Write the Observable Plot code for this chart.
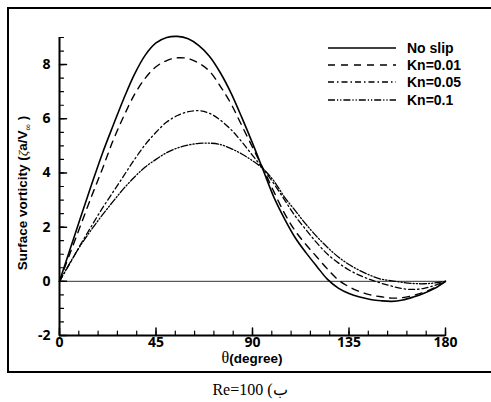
<!DOCTYPE html>
<html>
<head>
<meta charset="utf-8">
<script src="https://cdn.jsdelivr.net/npm/d3@7"></script>
<script src="https://cdn.jsdelivr.net/npm/@observablehq/plot@0.6"></script>
<style>
  body { margin: 0; background: #fff; }
  #wrap { position: relative; width: 491px; height: 402px; overflow: hidden; font-family: "Liberation Sans", Arial, sans-serif; }
  #frame { position: absolute; left: 7px; top: 7px; width: 492px; height: 366px; border: 2px solid #000; box-sizing: border-box; z-index: 2; pointer-events: none; }
  #plot { position: absolute; left: 0; top: 0; z-index: 1; }
  #ylab { position: absolute; left: 24px; top: 193px; transform: translate(-50%, -50%) rotate(-90deg); white-space: nowrap; font-weight: bold; font-size: 13.5px; z-index: 3; }
  #xlab { position: absolute; left: 252px; top: 358px; transform: translate(-50%, -50%); white-space: nowrap; line-height: 14px; z-index: 3; }
  #legend { position: absolute; left: 328px; top: 39px; z-index: 3; }
  .row { display: flex; align-items: center; height: 17.4px; }
  .row span { font-weight: bold; font-size: 14px; margin-left: 11px; }
  #cap { position: absolute; left: 250px; top: 389px; transform: translate(-50%, -50%); font-family: "Liberation Serif", "Times New Roman", serif; font-size: 16px; white-space: nowrap; z-index: 3; }
</style>
</head>
<body>
<div id="wrap">
  <div id="frame"></div>
  <div id="plot"></div>
  <div id="ylab">Surface vorticity (<span style="font-weight:normal;font-family:'Liberation Serif',serif;font-style:italic">ζ</span>a/V<sub style="font-size:9px;font-weight:normal">∞</sub> )</div>
  <div id="xlab"><span style="font-family:'Liberation Serif',serif;font-size:16px">θ</span><span style="font-weight:bold;font-size:13.5px">(degree)</span></div>
  <div id="legend"></div>
  <div id="cap" dir="rtl">ب) Re=100</div>
</div>
<script>
const theta = [0,5,10,15,20,25,30,35,40,45,50,55,60,65,70,75,80,85,90,95,100,105,110,115,120,125,130,135,140,145,150,155,160,165,170,175,180];
const noSlip = [0,1.2,2.4,3.58,4.72,5.75,6.75,7.65,8.35,8.8,9.0,9.04,8.95,8.7,8.3,7.7,6.95,6.05,5.1,4.1,3.1,2.3,1.6,1.05,0.55,0.07,-0.25,-0.45,-0.58,-0.67,-0.72,-0.74,-0.69,-0.58,-0.44,-0.26,0];
const kn001 = [0,1.05,2.1,3.15,4.15,5.2,6.1,6.9,7.5,7.92,8.15,8.25,8.22,8.05,7.75,7.2,6.55,5.75,4.95,4.15,3.3,2.5,1.85,1.35,0.9,0.45,0.05,-0.2,-0.38,-0.5,-0.57,-0.62,-0.6,-0.52,-0.4,-0.23,0];
const kn005 = [0,0.68,1.38,2.05,2.7,3.3,3.9,4.5,5.05,5.5,5.88,6.12,6.26,6.3,6.2,5.95,5.6,5.15,4.65,4.15,3.6,3.0,2.4,1.9,1.42,1.0,0.68,0.42,0.22,0.06,-0.07,-0.18,-0.27,-0.3,-0.26,-0.15,0];
const kn01 = [0,0.7,1.35,1.92,2.45,2.95,3.43,3.85,4.22,4.5,4.75,4.92,5.03,5.09,5.1,5.05,4.9,4.7,4.45,4.15,3.7,3.1,2.6,2.1,1.65,1.25,0.9,0.62,0.4,0.22,0.08,0.02,-0.04,-0.08,-0.09,-0.06,0];
const seriesNames = ["No slip","Kn=0.01","Kn=0.05","Kn=0.1"];
const seriesValues = [noSlip, kn001, kn005, kn01];
const dashes = [null, "7,6", "6,3,1.5,3", "7,2,1.2,2,1.2,2"];
const widths = [1.6, 1.4, 1.3, 1.3];
const xMajor = [0,45,90,135,180];
const xMinor = d3.range(0, 181, 9);
const yMajor = [-2,0,2,4,6,8];
const yMinor = d3.range(-2, 9.01, 0.5);

const tickShape = {draw(context, l) { context.moveTo(0, 0); context.lineTo(0, -l); }};

const lineMarks = seriesValues.map((vals, i) =>
  Plot.line(theta.map((t, j) => ({t, v: vals[j]})), {
    x: "t", y: "v", stroke: "#000", strokeWidth: widths[i],
    strokeDasharray: dashes[i], curve: "catmull-rom"
  })
);

const yDomain = [-2, 9];
const xDomain = [0, 180];

const chart = Plot.plot({
  width: 491, height: 380,
  marginLeft: 59, marginRight: 46, marginTop: 37, marginBottom: 45,
  style: {background: "transparent", color: "#000"},
  x: {domain: xDomain},
  y: {domain: yDomain},
  marks: [
    Plot.ruleY([0], {stroke: "#333", strokeWidth: 1}),
    ...lineMarks,
    Plot.vector(yMinor, {x: xDomain[0], y: d => d, length: 4, rotate: 90, anchor: "start", shape: tickShape, stroke: "#000", strokeWidth: 1.2}),
    Plot.vector(yMajor, {x: xDomain[0], y: d => d, length: 7, rotate: 90, anchor: "start", shape: tickShape, stroke: "#000", strokeWidth: 1.5}),
    Plot.vector(xMinor, {x: d => d, y: yDomain[0], length: 4.5, rotate: 0, anchor: "start", shape: tickShape, stroke: "#000", strokeWidth: 1.2}),
    Plot.vector(xMajor, {x: d => d, y: yDomain[0], length: 7.5, rotate: 0, anchor: "start", shape: tickShape, stroke: "#000", strokeWidth: 1.5}),
    Plot.axisY({ticks: yMajor, tickSize: 0, tickPadding: 9, label: null, fontSize: 14, fontWeight: "bold", tickFormat: d => d}),
    Plot.axisX({ticks: xMajor, tickSize: 0, tickPadding: 2, label: null, fontSize: 14, fontWeight: "bold", tickFormat: d => d}),
    Plot.ruleX([xDomain[0]], {strokeWidth: 2}),
    Plot.ruleY([yDomain[0]], {strokeWidth: 2})
  ]
});
document.getElementById("plot").appendChild(chart);

const legend = document.getElementById("legend");
seriesNames.forEach((name, i) => {
  const row = document.createElement("div");
  row.className = "row";
  const svg = d3.create("svg").attr("width", 68).attr("height", 6);
  svg.append("line").attr("x1", 0).attr("x2", 68).attr("y1", 3).attr("y2", 3)
    .attr("stroke", "#000").attr("stroke-width", widths[i])
    .attr("stroke-dasharray", dashes[i]);
  row.appendChild(svg.node());
  const s = document.createElement("span");
  s.textContent = name;
  row.appendChild(s);
  legend.appendChild(row);
});
</script>
</body>
</html>
